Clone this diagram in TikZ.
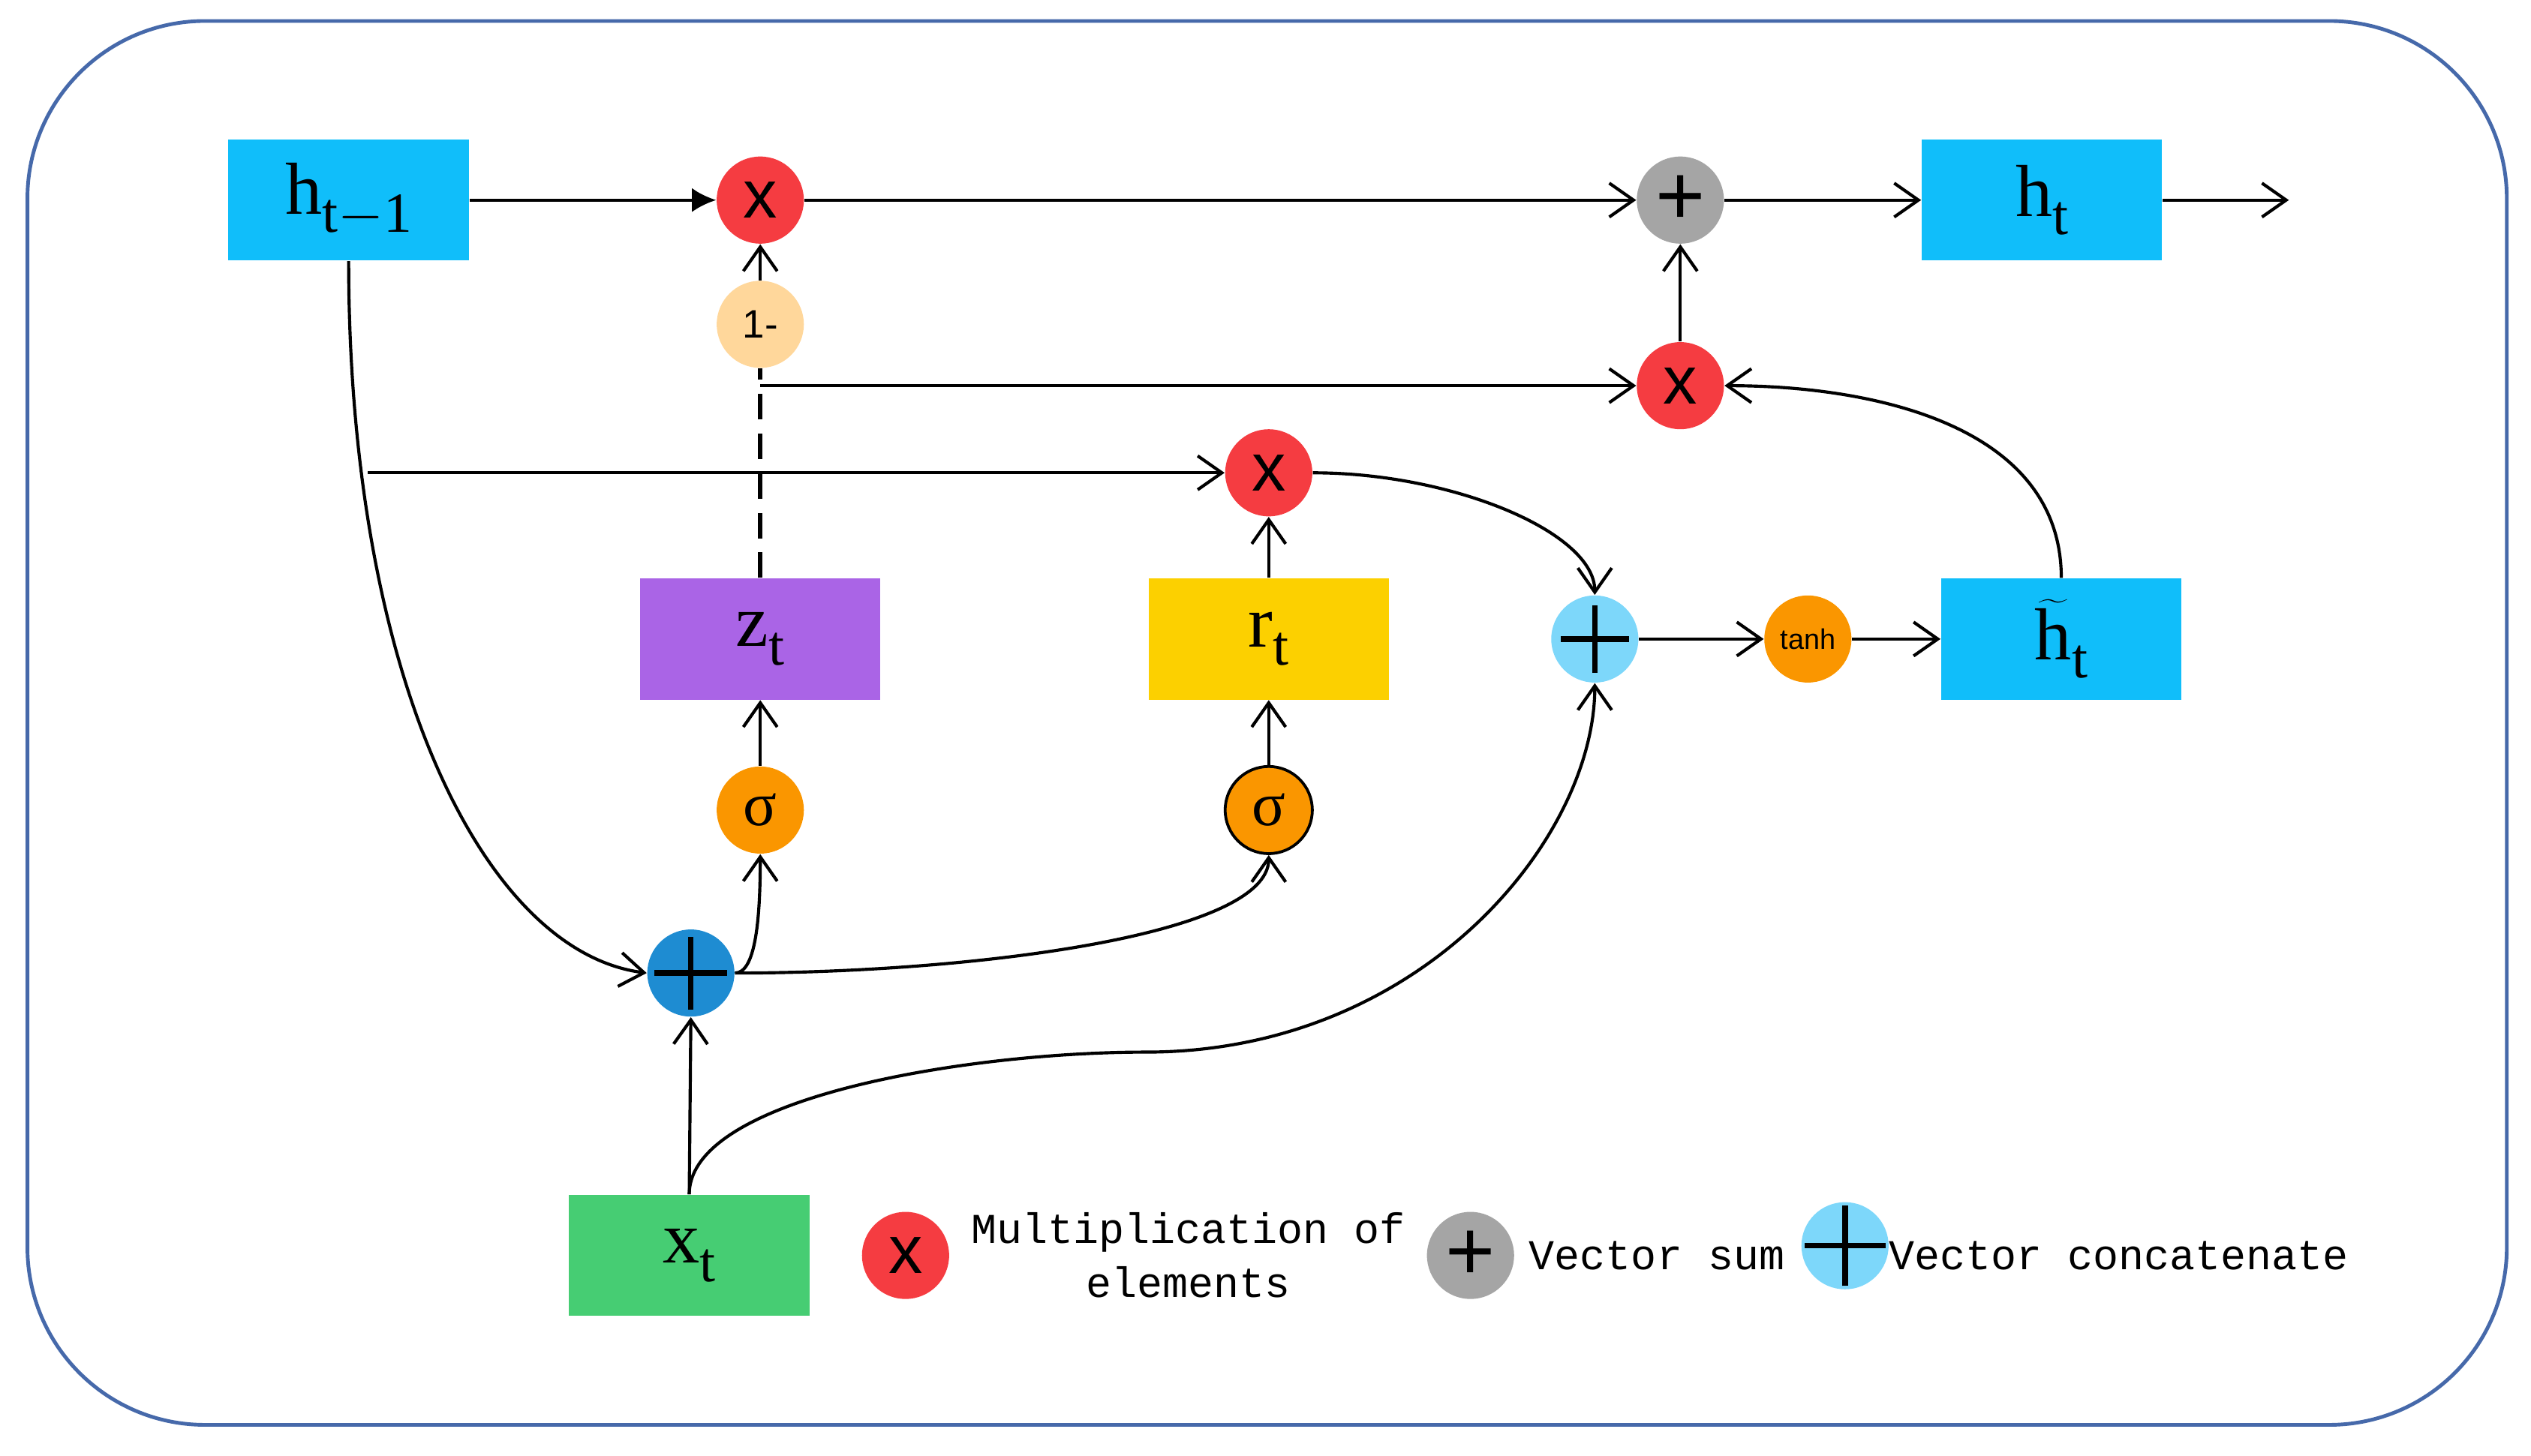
\documentclass[tikz,border=0pt]{standalone}
\usepackage{fontspec}
\setmainfont{Liberation Serif}
\newfontfamily\mono{Liberation Mono}
\newfontfamily\sans{Liberation Sans}
\usetikzlibrary{arrows.meta}
\definecolor{cyanb}{RGB}{16,190,250}
\definecolor{redc}{RGB}{245,60,65}
\definecolor{grayc}{RGB}{165,165,165}
\definecolor{lblue}{RGB}{125,215,250}
\definecolor{dblue}{RGB}{30,140,210}
\definecolor{orc}{RGB}{250,150,0}
\definecolor{peach}{RGB}{255,215,155}
\definecolor{purp}{RGB}{170,100,230}
\definecolor{yel}{RGB}{252,208,0}
\definecolor{grn}{RGB}{70,205,115}
\definecolor{frame}{RGB}{70,105,170}
\begin{document}
\begin{tikzpicture}[x=0.02cm,y=-0.02cm,
  box/.style={draw=none,minimum width=2.98cm,minimum height=1.5cm,inner sep=0,font=\fontsize{26}{28}\selectfont},
  op/.style={circle,minimum size=1.08cm,inner sep=0},
  mul/.style={op,fill=redc,font=\sans\fontsize{24}{24}\selectfont},
  ln/.style={line width=1.1pt,-{Straight Barb[length=3mm,width=4.2mm]}},
  leg/.style={font=\mono\fontsize{15}{19}\selectfont},
  plain/.style={line width=1.1pt}]
\useasboundingbox (0,0) rectangle (1568,902);
\draw[frame,line width=1.3pt,rounded corners=2.2cm] (17,13) rectangle (1553,883);
\node[box,fill=cyanb] (hp) at (216,124) {h\raisebox{-0.25em}{\fontsize{20}{20}\selectfont t$-$1}};
\node[box,fill=cyanb] (ht) at (1265,124) {h\raisebox{-0.25em}{\fontsize{20}{20}\selectfont t}};
\node[box,fill=cyanb] (htt) at (1277,396) {$\widetilde{\mathrm{h}}$\raisebox{-0.25em}{\fontsize{20}{20}\selectfont t}};
\node[box,fill=purp] (z) at (471,396) {z\raisebox{-0.25em}{\fontsize{20}{20}\selectfont t}};
\node[box,fill=yel] (r) at (786,396) {r\raisebox{-0.25em}{\fontsize{20}{20}\selectfont t}};
\node[box,fill=grn] (x) at (427,778) {x\raisebox{-0.25em}{\fontsize{20}{20}\selectfont t}};
\node[mul] (m1) at (471,124) {x};
\node[mul] (m2) at (1041,239) {x};
\node[mul] (m3) at (786,293) {x};
\node[op,fill=grayc,font=\sans\fontsize{30}{30}\selectfont] (s) at (1041,124) {+};
\node[op,fill=peach,font=\sans\fontsize{14}{14}\selectfont] (om) at (471,201) {1-};
\node[op,fill=lblue] (cl) at (988,396) {};
\draw[line width=2pt] ([xshift=-0.42cm]cl.center)--([xshift=0.42cm]cl.center) ([yshift=-0.42cm]cl.center)--([yshift=0.42cm]cl.center);
\node[op,fill=dblue] (cd) at (428,603) {};
\draw[line width=2pt] ([xshift=-0.45cm]cd.center)--([xshift=0.45cm]cd.center) ([yshift=-0.45cm]cd.center)--([yshift=0.45cm]cd.center);
\node[op,fill=orc,font=\sans\fontsize{10}{10}\selectfont] (th) at (1120,396) {tanh};
\node[op,fill=orc,font=\fontsize{22}{22}\selectfont] (g1) at (471,502) {σ};
\node[op,fill=orc,draw=black,line width=1pt,font=\fontsize{22}{22}\selectfont] (g2) at (786,502) {σ};
% legend
\node[mul] (l1) at (561,778) {x};
\node[leg,align=center] (t1) at (736,778) {Multiplication of\\elements};
\node[op,fill=grayc,font=\sans\fontsize{30}{30}\selectfont] (l2) at (911,778) {+};
\node[leg,anchor=west,inner sep=0] (t2) at (947,778) {Vector sum};
\node[op,fill=lblue] (l3) at (1143,772) {};
\draw[line width=2pt] ([xshift=-0.5cm]l3.center)--([xshift=0.5cm]l3.center) ([yshift=-0.5cm]l3.center)--([yshift=0.5cm]l3.center);
\node[leg,anchor=west,inner sep=0] (t3) at (1170,778) {Vector concatenate};
% connectors
\coordinate (out) at (1418,124);
\coordinate (b1) at (471,239);
\coordinate (b2) at (228,293);
\draw[line width=1.1pt,-{Latex[length=3mm,width=3mm]}] (hp) -- (m1);
\draw[ln] (m1) -- (s);
\draw[ln] (s) -- (ht);
\draw[ln] (ht) -- (out);
\draw[ln] (om) -- (m1);
\draw[line width=1.6pt,dash pattern=on 9pt off 5pt] (z) -- (om);
\draw[ln] (b1) -- (m2);
\draw[ln] (m2) -- (s);
\draw[ln] (htt.north) to[out=90,in=0] (m2.east);
\draw[ln] (hp.south) .. controls (216,420) and (300,590) .. (cd.west);
\draw[ln] (b2) -- (m3);
\draw[ln] (m3.east) .. controls (900,293) and (988,330) .. (cl.north);
\draw[ln] (r) -- (m3);
\draw[ln] (cl) -- (th);
\draw[ln] (th) -- (htt);
\draw[ln] (g1) -- (z);
\draw[ln] (g2) -- (r);
\draw[ln] (cd.east) .. controls (468,603) and (471,570) .. (g1.south);
\draw[ln] (cd.east) .. controls (600,603) and (786,580) .. (g2.south);
\draw[ln] (x.north) -- (cd.south);
\draw[ln] (x.north) .. controls (427,680) and (600,652) .. (710,652) .. controls (880,652) and (988,520) .. (cl.south);
\end{tikzpicture}
\end{document}
